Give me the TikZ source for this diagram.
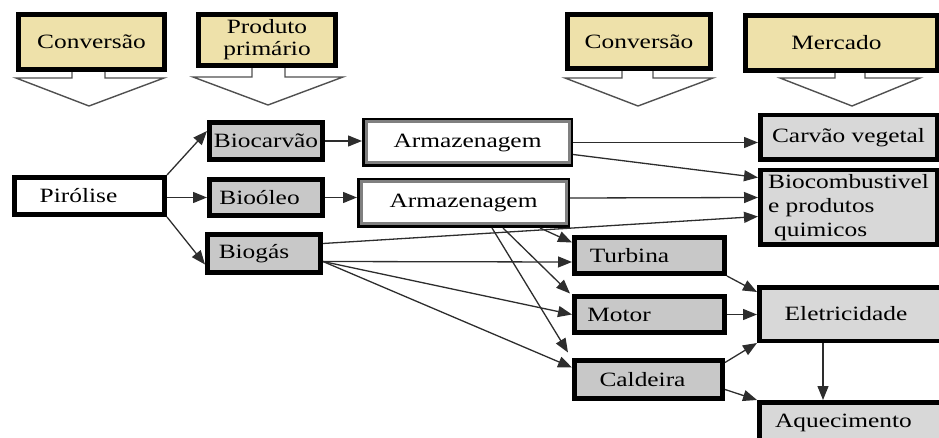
\documentclass[tikz,border=0pt]{standalone}
\usepackage{fontspec}
\setmainfont{Liberation Serif}[FakeStretch=1.25]
\usetikzlibrary{arrows.meta,calc}
\definecolor{headfill}{RGB}{238,225,170}
\definecolor{boxgray}{RGB}{200,200,200}
\definecolor{boxlight}{RGB}{216,216,216}
\definecolor{linkgray}{RGB}{45,45,45}
\definecolor{blockgray}{RGB}{80,80,80}
\definecolor{rimgray}{RGB}{128,128,128}
\begin{document}
\begin{tikzpicture}[x=1pt,y=-1pt,
  base/.style={draw=black, inner sep=0pt, font=\fontsize{20.3}{22}\selectfont, text=black},
  head/.style={base, fill=headfill, line width=5pt},
  src/.style={base, fill=white, line width=5pt},
  prim/.style={base, fill=boxgray, line width=5pt},
  store/.style={base, fill=white, line width=5pt},
  conv/.style={base, fill=boxgray, line width=5pt},
  market/.style={base, fill=boxlight, line width=4.5pt},
  rim/.style={draw=rimgray, line width=3pt},
  link/.style={draw=linkgray, line width=1.3pt, -{Triangle[length=14pt,width=11pt]}},
  block/.style={draw=blockgray, line width=1.4pt, fill=white, line join=miter},
]
\useasboundingbox (0,0) rectangle (939,438);

% block arrows under the header boxes
\draw[block] (72,66) -- (72,78) -- (16,78) -- (89,106) -- (164,78) -- (105,78) -- (105,66);
\draw[block] (252,62) -- (252,77) -- (193,77) -- (268,105) -- (343,77) -- (285,77) -- (285,62);
\draw[block] (622,66) -- (622,78) -- (565,78) -- (638,106) -- (713,78) -- (653,78) -- (653,66);
\draw[block] (835,66) -- (835,78) -- (780,78) -- (852,106) -- (920,78) -- (865,78) -- (865,66);

% header boxes
\node[head, minimum width=146pt, minimum height=55pt] (hconv1) at (91.5,42) {Conversão};
\node[head, minimum width=137pt, minimum height=51pt, align=center] (hprod) at (267,40) {Produto\\primário};
\node[head, minimum width=143pt, minimum height=54pt] (hconv2) at (639,41.5) {Conversão};
\node[head, minimum width=192pt, minimum height=55pt] (hmerc) at (841.5,43) {Mercado\kern10pt};

% process chain
\node[src, minimum width=150pt, minimum height=37pt] (piro) at (89.5,196) {Pirólise\kern22pt};
\node[prim, minimum width=113pt, minimum height=37pt] (bioc) at (266,141) {Biocarvão};
\node[prim, minimum width=113pt, minimum height=36pt] (biool) at (266,197.5) {Bioóleo\kern13pt};
\node[prim, minimum width=113pt, minimum height=38pt] (biog) at (264,253.5) {Biogás\kern20pt};

\node[store, minimum width=206pt, minimum height=44pt] (arm1) at (467.5,142.5) {Armazenagem};
\node[store, minimum width=208pt, minimum height=45pt] (arm2) at (463.5,203) {Armazenagem};
\draw[rim] ([shift={(4,4)}]arm1.north west) rectangle ([shift={(-4,-4)}]arm1.south east);
\draw[rim] ([shift={(4,4)}]arm2.north west) rectangle ([shift={(-4,-4)}]arm2.south east);

\node[conv, minimum width=150pt, minimum height=36pt] (turb) at (649.5,255.5) {Turbina\kern40pt};
\node[conv, minimum width=150pt, minimum height=36pt] (motor) at (649.5,314.5) {Motor\kern61pt};
\node[conv, minimum width=148pt, minimum height=38pt] (cald) at (648.5,379.5) {Caldeira\kern12pt};

\node[market, minimum width=176.5pt, minimum height=44.5pt] (carv) at (848.5,137.5) {Carvão vegetal};
\node[market, minimum width=176.5pt, minimum height=74.5pt, align=left,
      font=\fontsize{20.3}{24}\selectfont] (bcomb) at (848.5,207.5)
      {Biocombustivel\\e produtos\\\hspace*{6pt}quimicos};
\node[market, minimum width=188.5pt, minimum height=53.5pt] (elet) at (853.5,314) {Eletricidade\kern15pt};
\node[market, minimum width=188.5pt, minimum height=41.5pt] (aquec) at (853.5,423) {\raisebox{4pt}{Aquecimento}\kern20pt};

% connectors
\draw[link] (piro.north east) -- ([shift={(0,-10)}]bioc.west);
\draw[link] (piro.east |- biool.west) -- (biool.west);
\draw[link] (piro.south east) -- ([shift={(0,11)}]biog.west);

\draw[link] (bioc.east) -- (arm1.west |- bioc.east);
\draw[link] (biool.east) -- (arm2.west |- biool.east);

\draw[link] (arm1.east) -- (carv.west |- arm1.east);
\draw[link] ([shift={(0,12)}]arm1.east) -- ([shift={(0,-30)}]bcomb.west);
\draw[link] ([shift={(0,-5)}]arm2.east) -- ([shift={(0,-10)}]bcomb.west);
\draw[link] ([shift={(0,-10)}]biog.east) -- ([shift={(0,9)}]bcomb.west);

\draw[link] ([shift={(0,8)}]biog.east) -- ([shift={(0,6.5)}]turb.west);
\draw[link] ([shift={(0,8)}]biog.east) -- (motor.west);
\draw[link] ([shift={(0,8)}]biog.east) -- ([shift={(0,-12)}]cald.west);

\draw[link] ([shift={(76.5,0)}]arm2.south) -- ([shift={(0,-13)}]turb.west);
\draw[link] ([shift={(39.5,0)}]arm2.south) -- ([shift={(-2,-21)}]motor.west);
\draw[link] ([shift={(28.5,0)}]arm2.south) -- ([shift={(-4,-27)}]cald.west);

\draw[link] (turb.south east) -- ([shift={(0,-22)}]elet.west);
\draw[link] (motor.east) -- (elet.west |- motor.east);
\draw[link] ([shift={(0,-17)}]cald.east) -- (elet.south west);
\draw[link] ([shift={(0,10)}]cald.east) -- (aquec.north west);
\draw[link] ([shift={(-30.5,0)}]elet.south) -- ([shift={(-30.5,0)}]aquec.north);
\end{tikzpicture}
\end{document}
